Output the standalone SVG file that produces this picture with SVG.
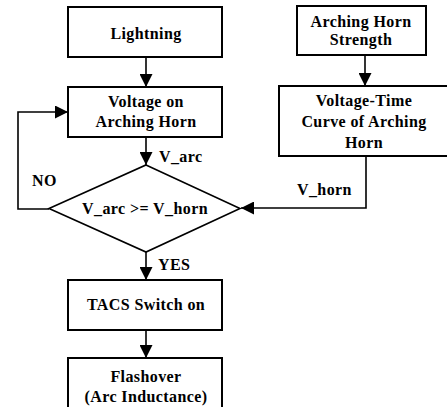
<svg xmlns="http://www.w3.org/2000/svg" width="447" height="407" viewBox="0 0 447 407">
<style>
.box{fill:#fff;stroke:#000;stroke-width:2}
.ln{fill:none;stroke:#000;stroke-width:1.6}
text{font-family:"Liberation Serif","Times New Roman",serif;font-weight:bold;font-size:16px;letter-spacing:0.4px;fill:#000}
.c{text-anchor:middle}
</style>
<defs>
<marker id="ah" markerUnits="userSpaceOnUse" markerWidth="14" markerHeight="13" refX="13" refY="6.5" orient="auto">
<path d="M0,0 L13,6.5 L0,13 z" fill="#000"/>
</marker>
</defs>
<rect width="447" height="407" fill="#fff"/>
<g id="connectors">
<line class="ln" x1="146" y1="57" x2="146" y2="87" marker-end="url(#ah)"/>
<line class="ln" x1="146" y1="137" x2="146" y2="165" marker-end="url(#ah)"/>
<line class="ln" x1="146" y1="252" x2="146" y2="280" marker-end="url(#ah)"/>
<line class="ln" x1="146" y1="330" x2="146" y2="358" marker-end="url(#ah)"/>
<line class="ln" x1="365" y1="55" x2="365" y2="86" marker-end="url(#ah)"/>
<polyline class="ln" points="366,156 366,208 241,208" marker-end="url(#ah)"/>
<polyline class="ln" points="49,209 18,209 18,112 68,112" marker-end="url(#ah)"/>
<text x="159" y="162">V_arc</text>
<text x="32" y="186">NO</text>
<text x="297" y="195">V_horn</text>
<text x="158" y="270">YES</text>
</g>
<g id="lightning">
<rect class="box" x="68" y="7" width="154" height="50"/>
<text class="c" x="146" y="39">Lightning</text>
</g>
<g id="strength">
<rect class="box" x="297" y="6" width="129" height="49"/>
<text class="c" x="361" y="27">Arching Horn</text>
<text class="c" x="361" y="45">Strength</text>
</g>
<g id="voltage">
<rect class="box" x="68" y="87" width="154" height="50"/>
<text class="c" x="146" y="107">Voltage on</text>
<text class="c" x="146" y="127">Arching Horn</text>
</g>
<g id="vtcurve">
<rect class="box" x="279" y="86" width="172" height="70"/>
<text class="c" x="364" y="106">Voltage-Time</text>
<text class="c" x="364" y="127">Curve of Arching</text>
<text class="c" x="364" y="148">Horn</text>
</g>
<g id="decision">
<polygon class="box" points="146,165 240,208.5 146,252 49,208.5" style="stroke-width:1.6"/>
<text class="c" x="145" y="214">V_arc &gt;= V_horn</text>
</g>
<g id="tacs">
<rect class="box" x="68" y="280" width="154" height="50"/>
<text class="c" x="146" y="310">TACS Switch on</text>
</g>
<g id="flashover">
<rect class="box" x="68" y="358" width="154" height="60"/>
<text class="c" x="146" y="382">Flashover</text>
<text class="c" x="146" y="402">(Arc Inductance)</text>
</g>
</svg>
